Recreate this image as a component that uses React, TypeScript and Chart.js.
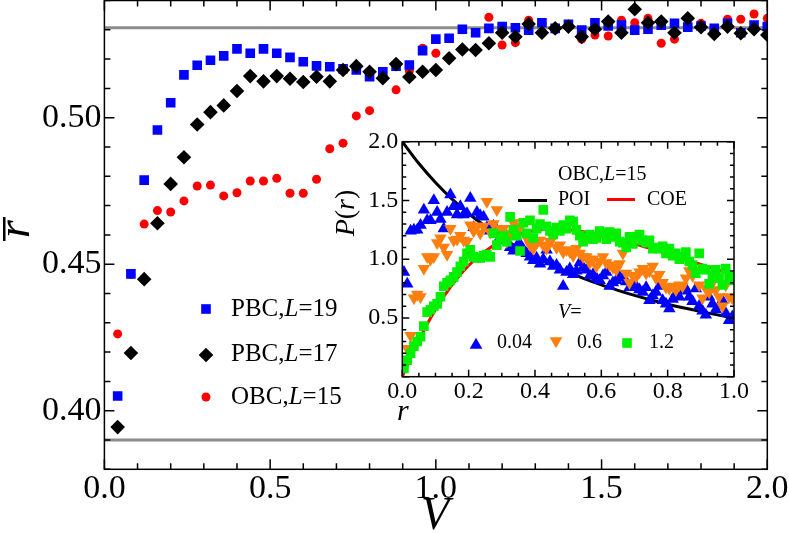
import React, { useEffect, useRef } from 'react';
import { Chart, registerables } from 'chart.js';
Chart.register(...registerables);

const FONT = '"Liberation Serif", "Times New Roman", serif';

// ---------------- main panel data ----------------
const V_GRID = [0.04,0.08,0.12,0.16,0.2,0.24,0.28,0.32,0.36,0.4,0.44,0.48,0.52,0.56,0.6,0.64,0.68,0.72,0.76,0.8,0.84,0.88,0.92,0.96,1.0,1.04,1.08,1.12,1.16,1.2,1.24,1.28,1.32,1.36,1.4,1.44,1.48,1.52,1.56,1.6,1.64,1.68,1.72,1.76,1.8,1.84,1.88,1.92,1.96,2.0];
const PBC_L19 = [
  0.4050,0.4467,0.4787,0.4958,0.5051,0.5146,0.5179,0.5196,0.5211,0.5235,
  0.5220,0.5235,0.5220,0.5206,0.5191,0.5177,0.5174,0.5167,0.5163,0.5140,
  0.5157,0.5176,0.5180,0.5229,0.5268,0.5271,0.5302,0.5290,0.5305,0.5311,
  0.5307,0.5299,0.5324,0.5305,0.5319,0.5299,0.5324,0.5313,0.5316,0.5299,
  0.5302,0.5316,0.5322,0.5309,0.5313,0.5305,0.5322,0.5290,0.5316,0.5311];
const PBC_L17 = [
  0.3944,0.4197,0.4449,0.4640,0.4774,0.4865,0.4977,0.5019,0.5042,0.5091,
  0.5142,0.5124,0.5142,0.5133,0.5122,0.5140,0.5124,0.5163,0.5176,0.5157,
  0.5135,0.5183,0.5139,0.5157,0.5163,0.5203,0.5233,0.5231,0.5254,0.5290,
  0.5276,0.5320,0.5290,0.5305,0.5311,0.5276,0.5302,0.5328,0.5290,0.5370,
  0.5324,0.5328,0.5290,0.5339,0.5309,0.5286,0.5311,0.5288,0.5302,0.5282];
const OBC_L15 = [
  0.4262,0.4465,0.4637,0.4683,0.4678,0.4716,0.4767,0.4770,0.4733,0.4744,
  0.4784,0.4784,0.4793,0.4742,0.4742,0.4790,0.4894,0.4913,0.5006,0.5024,
  0.5155,0.5095,0.5160,0.5237,0.5220,0.5270,0.5300,0.5290,0.5343,0.5248,
  0.5256,0.5333,0.5320,0.5300,0.5310,0.5268,0.5282,0.5279,0.5333,0.5324,
  0.5339,0.5254,0.5268,0.5310,0.5322,0.5300,0.5336,0.5336,0.5354,0.5339];
const COE_LEVEL = 0.5307;
const POI_LEVEL = 0.39;
const MAIN_X_TICKS = [0, 0.5, 1.0, 1.5, 2.0];
const MAIN_Y_TICKS = [0.40, 0.45, 0.50];

// ---------------- inset data ----------------
const R_BINS = [
  0.005,0.015,0.025,0.035,0.045,0.055,0.065,0.075,0.085,0.095,
  0.105,0.115,0.125,0.135,0.145,0.155,0.165,0.175,0.185,0.195,
  0.205,0.215,0.225,0.235,0.245,0.255,0.265,0.275,0.285,0.295,
  0.305,0.315,0.325,0.335,0.345,0.355,0.365,0.375,0.385,0.395,
  0.405,0.415,0.425,0.435,0.445,0.455,0.465,0.475,0.485,0.495,
  0.505,0.515,0.525,0.535,0.545,0.555,0.565,0.575,0.585,0.595,
  0.605,0.615,0.625,0.635,0.645,0.655,0.665,0.675,0.685,0.695,
  0.705,0.715,0.725,0.735,0.745,0.755,0.765,0.775,0.785,0.795,
  0.805,0.815,0.825,0.835,0.845,0.855,0.865,0.875,0.885,0.895,
  0.905,0.915,0.925,0.935,0.945,0.955,0.965,0.975,0.985,0.995];
const P_V004 = [
  0.89,0.79,1.24,1.25,1.25,1.29,1.42,1.33,1.33,1.50,
  1.40,1.34,1.26,1.40,1.55,1.45,1.38,1.45,1.38,1.39,
  1.52,1.27,1.40,1.37,1.36,1.27,1.24,1.28,1.25,1.19,
  1.22,1.16,1.10,1.07,1.11,1.13,1.08,1.05,1.02,0.99,
  1.01,0.96,1.00,1.08,0.98,0.94,0.95,0.91,0.77,0.89,
  0.92,0.87,0.90,0.97,0.93,0.91,0.86,0.87,0.84,0.82,
  0.86,0.89,0.77,0.80,0.82,0.85,0.84,0.81,0.76,0.79,
  0.77,0.74,0.72,0.76,0.65,0.69,0.72,0.77,0.65,0.62,
  0.58,0.66,0.71,0.68,0.73,0.75,0.68,0.64,0.75,0.60,
  0.56,0.525,0.68,0.62,0.57,0.60,0.65,0.54,0.48,0.51];
const P_V06 = [
  0.10,0.24,0.35,0.67,0.70,0.68,0.92,1.02,1.00,1.02,
  1.14,1.18,1.10,1.04,1.26,1.16,1.17,1.20,1.16,1.15,
  1.29,1.24,1.28,1.22,1.28,1.49,1.23,1.30,1.42,1.26,
  1.26,1.15,1.22,1.31,1.26,1.28,1.31,1.18,1.12,1.09,
  1.14,1.16,1.12,1.09,1.15,1.19,1.10,1.12,1.06,1.08,
  1.065,1.03,1.09,1.05,1.02,1.02,0.97,1.00,0.94,0.98,
  1.02,0.97,0.95,0.93,0.91,0.96,1.05,0.88,0.80,0.86,
  0.85,0.89,0.92,0.88,0.90,0.94,0.84,0.87,0.80,0.76,
  0.75,0.77,0.74,0.78,0.77,0.84,0.90,0.86,0.90,0.78,
  0.67,0.75,0.72,0.80,0.74,0.68,0.60,0.78,0.68,0.67];
const P_V12 = [
  0.07,0.14,0.20,0.26,0.30,0.34,0.43,0.55,0.57,0.60,
  0.62,0.68,0.77,0.80,0.82,0.85,0.89,0.94,0.98,1.05,
  1.08,1.02,1.01,1.01,1.03,1.04,1.02,1.22,1.12,1.18,
  1.20,1.15,1.36,1.25,1.20,1.07,1.31,1.22,1.33,1.18,
  1.26,1.30,1.42,1.28,1.24,1.21,1.27,1.24,1.29,1.26,
  1.33,1.32,1.25,1.20,1.15,1.18,1.21,1.17,1.18,1.24,
  1.22,1.17,1.23,1.19,1.22,1.15,1.14,1.10,1.19,1.13,
  1.19,1.21,1.16,1.14,1.16,1.09,1.10,1.09,1.11,1.05,
  1.09,1.03,1.05,1.00,1.02,1.06,0.98,0.95,0.88,1.05,
  0.92,0.91,0.79,0.86,0.91,0.84,0.78,0.92,0.85,0.82];
const CURVE_R = [0,0.05,0.1,0.15,0.2,0.25,0.3,0.35,0.4,0.45,0.5,0.55,0.6,0.65,0.7,0.75,0.8,0.85,0.9,0.95,1.0];
const POI_CURVE = [2.000,1.814,1.653,1.512,1.389,1.280,1.183,1.097,1.020,0.951,0.889,0.832,0.781,0.735,0.692,0.653,0.617,0.584,0.554,0.526,0.500];
const COE_CURVE = [0,0.312,0.572,0.782,0.946,1.069,1.156,1.212,1.244,1.254,1.250,1.232,1.205,1.171,1.132,1.089,1.045,1.000,0.955,0.910,0.866];
const INSET_X_TICKS = [0, 0.2, 0.4, 0.6, 0.8, 1.0];
const INSET_Y_TICKS = [0.5, 1.0, 1.5, 2.0];

const BLUE = '#0000ff';
const RED = '#ff0000';
const ORANGE = '#ff7f0e';
const GREEN = '#00f000';
const GRAY = '#8c8c8c';

const INSET_LEFT = 320;
const INSET_TOP = 130;

type Part = { t: string; i?: boolean };
function rich(ctx: CanvasRenderingContext2D, parts: Part[], x: number, y: number, size: number, align = 'left') {
  let w = 0;
  for (const p of parts) { ctx.font = `${p.i ? 'italic ' : ''}${size}px ${FONT}`; w += ctx.measureText(p.t).width; }
  let cx = align === 'center' ? x - w / 2 : x;
  ctx.textAlign = 'left';
  ctx.textBaseline = 'middle';
  ctx.fillStyle = '#000';
  for (const p of parts) {
    ctx.font = `${p.i ? 'italic ' : ''}${size}px ${FONT}`;
    ctx.fillText(p.t, cx, y);
    cx += ctx.measureText(p.t).width;
  }
}

function marker(ctx: CanvasRenderingContext2D, kind: string, x: number, y: number, r: number, color: string) {
  ctx.fillStyle = color;
  ctx.beginPath();
  if (kind === 'rect') { const s = r * Math.SQRT1_2; ctx.rect(x - s, y - s, 2 * s, 2 * s); }
  else if (kind === 'diamond') { ctx.moveTo(x - r, y); ctx.lineTo(x, y - r); ctx.lineTo(x + r, y); ctx.lineTo(x, y + r); ctx.closePath(); }
  else if (kind === 'circle') { ctx.arc(x, y, r, 0, Math.PI * 2); }
  else if (kind === 'tri') { ctx.moveTo(x, y - r); ctx.lineTo(x + r * 0.866, y + r / 2); ctx.lineTo(x - r * 0.866, y + r / 2); ctx.closePath(); }
  else if (kind === 'itri') { ctx.moveTo(x, y + r); ctx.lineTo(x + r * 0.866, y - r / 2); ctx.lineTo(x - r * 0.866, y - r / 2); ctx.closePath(); }
  ctx.fill();
}

function frameTicks(chart: any, xStep: number, xMajorEvery: number, xMax: number, yMin: number, yMax: number, yStep: number, yMajorEvery: number, majLen: number, minLen: number, lw: number) {
  const { ctx, chartArea: a, scales } = chart;
  const xs = scales.x, ys = scales.y;
  ctx.save();
  ctx.strokeStyle = '#000';
  ctx.lineWidth = lw;
  ctx.beginPath();
  const nx = Math.round(xMax / xStep);
  for (let i = 0; i <= nx; i++) {
    const px = xs.getPixelForValue(i * xStep);
    const len = i % xMajorEvery === 0 ? majLen : minLen;
    ctx.moveTo(px, a.bottom); ctx.lineTo(px, a.bottom - len);
    ctx.moveTo(px, a.top); ctx.lineTo(px, a.top + len);
  }
  const ny = Math.round((yMax - yMin) / yStep);
  for (let i = 0; i <= ny; i++) {
    const v = yMin + i * yStep;
    const py = ys.getPixelForValue(v);
    const k = Math.round(v / yStep);
    const len = k % yMajorEvery === 0 ? majLen : minLen;
    ctx.moveTo(a.left, py); ctx.lineTo(a.left + len, py);
    ctx.moveTo(a.right, py); ctx.lineTo(a.right - len, py);
  }
  ctx.stroke();
  ctx.strokeRect(a.left, a.top, a.right - a.left, a.bottom - a.top);
  ctx.restore();
}

const mainDecor = {
  id: 'mainDecor',
  afterDraw(chart: any) {
    const { ctx } = chart;
    frameTicks(chart, 0.1, 5, 2, 0.38, 0.54, 0.01, 5, 10, 6, 1.5);
    ctx.save();
    // y title: rotated r-bar
    ctx.translate(29, 229);
    ctx.rotate(-Math.PI / 2);
    ctx.font = `italic 46px ${FONT}`;
    ctx.fillStyle = '#000';
    ctx.textAlign = 'center';
    ctx.textBaseline = 'alphabetic';
    ctx.fillText('r', 0, 0);
    ctx.fillRect(-12, -26, 24, 2.5);
    ctx.restore();
    ctx.save();
    ctx.font = `italic 46px ${FONT}`;
    ctx.fillStyle = '#000';
    ctx.textAlign = 'center';
    ctx.textBaseline = 'middle';
    ctx.fillText('V', 435, 517);
    ctx.restore();
    // legend
    ctx.save();
    marker(ctx, 'rect', 206, 309, 6.8, BLUE);
    marker(ctx, 'diamond', 206, 355, 7.3, '#000');
    marker(ctx, 'circle', 206, 397, 4.5, RED);
    rich(ctx, [{ t: 'PBC,' }, { t: 'L', i: true }, { t: '=19' }], 231, 309, 25);
    rich(ctx, [{ t: 'PBC,' }, { t: 'L', i: true }, { t: '=17' }], 231, 354, 25);
    rich(ctx, [{ t: 'OBC,' }, { t: 'L', i: true }, { t: '=15' }], 231, 397, 25);
    ctx.restore();
  },
};

const insetDecor = {
  id: 'insetDecor',
  beforeDraw(chart: any) {
    const { ctx, chartArea: a } = chart;
    ctx.save();
    ctx.fillStyle = '#fff';
    ctx.fillRect(a.left, a.top, a.right - a.left, a.bottom - a.top);
    ctx.restore();
  },
  afterDraw(chart: any) {
    const { ctx } = chart;
    frameTicks(chart, 0.05, 4, 1, 0, 2, 0.1, 5, 7, 4, 1.5);
    const ox = INSET_LEFT, oy = INSET_TOP;
    ctx.save();
    // P(r) title
    ctx.translate(347 - ox, 213 - oy);
    ctx.rotate(-Math.PI / 2);
    rich(ctx, [{ t: 'P', i: true }, { t: '(' }, { t: 'r', i: true }, { t: ')' }], 0, 0, 28, 'center');
    ctx.restore();
    ctx.save();
    rich(ctx, [{ t: 'r', i: true }], 397 - ox, 412 - oy, 30);
    // legend
    rich(ctx, [{ t: 'OBC,' }, { t: 'L', i: true }, { t: '=15' }], 558 - ox, 175 - oy, 20);
    ctx.lineWidth = 3;
    ctx.strokeStyle = '#000';
    ctx.beginPath(); ctx.moveTo(518 - ox, 200.5 - oy); ctx.lineTo(547 - ox, 200.5 - oy); ctx.stroke();
    rich(ctx, [{ t: 'POI' }], 558 - ox, 200 - oy, 20);
    ctx.strokeStyle = RED;
    ctx.beginPath(); ctx.moveTo(607 - ox, 199.5 - oy); ctx.lineTo(635 - ox, 199.5 - oy); ctx.stroke();
    rich(ctx, [{ t: 'COE' }], 647 - ox, 200 - oy, 20);
    rich(ctx, [{ t: 'V', i: true }, { t: '=' }], 558 - ox, 313 - oy, 20);
    marker(ctx, 'tri', 476 - ox, 345 - oy, 7.3, BLUE);
    rich(ctx, [{ t: '0.04' }], 497 - ox, 343 - oy, 20);
    marker(ctx, 'itri', 556 - ox, 341 - oy, 7.3, ORANGE);
    rich(ctx, [{ t: '0.6' }], 577 - ox, 343 - oy, 20);
    marker(ctx, 'rect', 627 - ox, 343 - oy, 6.8, GREEN);
    rich(ctx, [{ t: '1.2' }], 649 - ox, 343 - oy, 20);
    ctx.restore();
  },
};

const pts = (xs: number[], ys: number[]) => xs.map((x, i) => ({ x, y: ys[i] }));

function makeMain(canvas: HTMLCanvasElement) {
  return new Chart(canvas, {
    type: 'scatter',
    data: {
      datasets: [
        { label: 'PBC,L=17', data: pts(V_GRID, PBC_L17), pointStyle: 'rectRot', pointRadius: 7.3, backgroundColor: '#000', borderWidth: 0, order: 1 } as any,
        { label: 'PBC,L=19', data: pts(V_GRID, PBC_L19), pointStyle: 'rect', pointRadius: 6.8, backgroundColor: BLUE, borderWidth: 0, order: 2 },
        { label: 'OBC,L=15', data: pts(V_GRID, OBC_L15), pointStyle: 'circle', pointRadius: 4.5, backgroundColor: RED, borderWidth: 0, order: 3 },
        { type: 'line', label: 'COE', data: [{ x: 0, y: COE_LEVEL }, { x: 2, y: COE_LEVEL }], borderColor: GRAY, borderWidth: 3, pointRadius: 0, order: 10 },
        { type: 'line', label: 'POI', data: [{ x: 0, y: POI_LEVEL }, { x: 2, y: POI_LEVEL }], borderColor: GRAY, borderWidth: 3, pointRadius: 0, order: 11 },
      ],
    },
    options: {
      responsive: false,
      animation: false,
      events: [],
      layout: { autoPadding: false, padding: { left: 0, top: 0.5, right: 21.7, bottom: 0 } },
      plugins: { legend: { display: false }, tooltip: { enabled: false } },
      scales: {
        x: {
          type: 'linear', min: 0, max: 2,
          grid: { display: false, drawTicks: false }, border: { display: false },
          afterBuildTicks: (s: any) => { s.ticks = MAIN_X_TICKS.map((v) => ({ value: v })); },
          afterFit: (s: any) => { s.height = 63.7; s.paddingLeft = 0; s.paddingRight = 0; },
          ticks: { font: { family: FONT, size: 34 }, color: '#000', padding: -1, maxRotation: 0, autoSkip: false, callback: (v: any) => Number(v).toFixed(1) },
        },
        y: {
          type: 'linear', min: 0.38, max: 0.54,
          grid: { display: false, drawTicks: false }, border: { display: false },
          afterBuildTicks: (s: any) => { s.ticks = MAIN_Y_TICKS.map((v) => ({ value: v })); },
          afterFit: (s: any) => { s.width = 104.4; s.paddingTop = 0; s.paddingBottom = 0; },
          ticks: { font: { family: FONT, size: 34 }, color: '#000', padding: 3, autoSkip: false, callback: (v: any) => Number(v).toFixed(2) },
        },
      },
    } as any,
    plugins: [mainDecor],
  });
}

function makeInset(canvas: HTMLCanvasElement) {
  return new Chart(canvas, {
    type: 'scatter',
    data: {
      datasets: [
        { label: 'V=1.2', data: pts(R_BINS, P_V12), pointStyle: 'rect', pointRadius: 6.8, backgroundColor: GREEN, borderWidth: 0, order: 1 } as any,
        { label: 'V=0.6', data: pts(R_BINS, P_V06), pointStyle: 'triangle', pointRotation: 180, pointRadius: 7.2, backgroundColor: ORANGE, borderWidth: 0, order: 2 },
        { label: 'V=0.04', data: pts(R_BINS, P_V004), pointStyle: 'triangle', pointRadius: 7.2, backgroundColor: BLUE, borderWidth: 0, order: 3 },
        { type: 'line', label: 'COE', data: pts(CURVE_R, COE_CURVE), borderColor: RED, borderWidth: 3, pointRadius: 0, cubicInterpolationMode: 'monotone', order: 4 },
        { type: 'line', label: 'POI', data: pts(CURVE_R, POI_CURVE), borderColor: '#000', borderWidth: 3, pointRadius: 0, cubicInterpolationMode: 'monotone', order: 5 },
      ],
    },
    options: {
      responsive: false,
      animation: false,
      events: [],
      layout: { autoPadding: false, padding: { left: 0, top: 11.7, right: 26, bottom: 0 } },
      plugins: { legend: { display: false }, tooltip: { enabled: false } },
      scales: {
        x: {
          type: 'linear', min: 0, max: 1,
          grid: { display: false, drawTicks: false }, border: { display: false },
          afterBuildTicks: (s: any) => { s.ticks = INSET_X_TICKS.map((v) => ({ value: v })); },
          afterFit: (s: any) => { s.height = 53.3; s.paddingLeft = 0; s.paddingRight = 0; },
          ticks: { font: { family: FONT, size: 24 }, color: '#000', padding: 1, maxRotation: 0, autoSkip: false, callback: (v: any) => Number(v).toFixed(1) },
        },
        y: {
          type: 'linear', min: 0, max: 2,
          grid: { display: false, drawTicks: false }, border: { display: false },
          afterBuildTicks: (s: any) => { s.ticks = INSET_Y_TICKS.map((v) => ({ value: v })); },
          afterFit: (s: any) => { s.width = 82.3; s.paddingTop = 0; s.paddingBottom = 0; },
          ticks: { font: { family: FONT, size: 24 }, color: '#000', padding: 4, autoSkip: false, callback: (v: any) => Number(v).toFixed(1) },
        },
      },
    } as any,
    plugins: [insetDecor],
  });
}

export default function App() {
  const mainRef = useRef<HTMLCanvasElement>(null);
  const insetRef = useRef<HTMLCanvasElement>(null);
  useEffect(() => {
    const m = makeMain(mainRef.current!);
    const i = makeInset(insetRef.current!);
    return () => { m.destroy(); i.destroy(); };
  }, []);
  return (
    <div style={{ position: 'fixed', left: 0, top: 0, width: 789, height: 533, background: '#fff', overflow: 'hidden' }}>
      <canvas ref={mainRef} width={789} height={533} style={{ position: 'absolute', left: 0, top: 0 }} />
      <canvas ref={insetRef} width={440} height={300} style={{ position: 'absolute', left: INSET_LEFT, top: INSET_TOP }} />
    </div>
  );
}
